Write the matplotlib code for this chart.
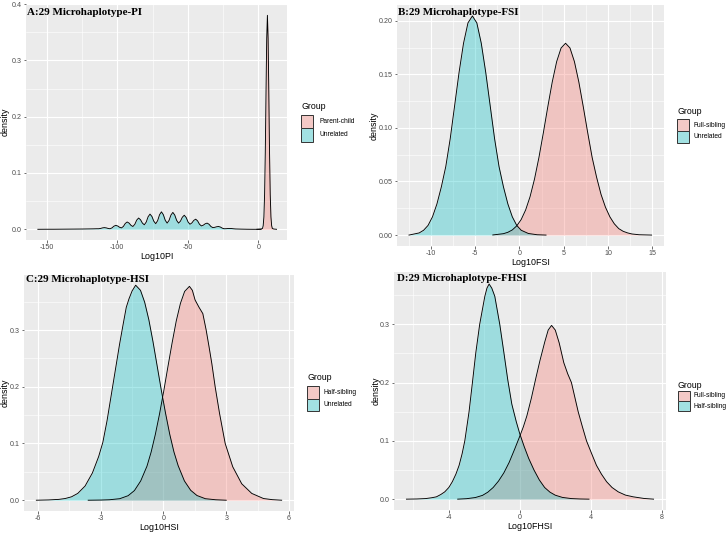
import matplotlib
matplotlib.use('Agg')
import matplotlib.pyplot as plt
from matplotlib.patches import Rectangle

plt.rcParams['font.family'] = ['Liberation Sans', 'DejaVu Sans']

# data
# A: Log10PI
a_unrel_x = [-156.4, -150, -145, -140, -135, -130, -125, -120, -117.3,
             -115.95, -114.6, -113.25, -111.9, -110.55, -109.2, -107.85, -106.5, -105.15,
             -103.8, -102.45, -101.1, -99.75, -98.4, -97.05, -95.7, -94.35, -93.0,
             -91.65, -90.3, -88.95, -87.6, -86.25, -84.9, -83.55, -82.2, -80.85,
             -79.5, -78.15, -76.8, -75.45, -74.1, -72.75, -71.4, -70.05, -68.7,
             -67.35, -66.0, -64.65, -63.3, -61.95, -60.6, -59.25, -57.9, -56.55,
             -55.2, -53.85, -52.5, -51.15, -49.8, -48.45, -47.1, -45.75, -44.4,
             -43.05, -41.7, -40.35, -39.0, -37.65, -36.3, -34.95, -33.6, -32.25,
             -30.9, -29.55, -28.2, -26.85, -25.5, -24.15, -22.8, -21.45, -20.1,
             -18.75, -17.4, -16.05, -12.0, -8.0, -4.0, 2.0]
a_unrel_y = [0.0, 0.0001, 0.0001, 0.0002, 0.0003, 0.0004, 0.0005, 0.0007, 0.0008,
             0.0009, 0.001, 0.001, 0.0015, 0.0025, 0.003, 0.0025, 0.0015, 0.001,
             0.0025, 0.0055, 0.007, 0.0059, 0.0036, 0.0025, 0.0051, 0.0104, 0.013,
             0.011, 0.007, 0.005, 0.0088, 0.0163, 0.020, 0.017, 0.011, 0.008,
             0.0128, 0.0223, 0.027, 0.0228, 0.0143, 0.010, 0.0153, 0.0258, 0.031,
             0.026, 0.016, 0.011, 0.0158, 0.0253, 0.030, 0.0253, 0.0158, 0.011,
             0.0145, 0.0215, 0.025, 0.021, 0.013, 0.009, 0.0113, 0.0158, 0.018,
             0.015, 0.009, 0.006, 0.0073, 0.0098, 0.011, 0.009, 0.005, 0.003,
             0.0035, 0.0045, 0.005, 0.004, 0.002, 0.001, 0.0011, 0.0014, 0.0015,
             0.0013, 0.0009, 0.0006, 0.0003, 0.0001, 0.0, 0.0]
a_pc_x = [-1, 2, 3, 3.5, 4, 4.5, 5, 5.5, 6, 6.5, 7, 7.5, 8, 8.5, 9, 9.5, 10, 11, 13]
a_pc_y = [0, 0.0005, 0.0015, 0.0064, 0.022, 0.062, 0.137, 0.241, 0.339, 0.38,
          0.339, 0.241, 0.137, 0.062, 0.022, 0.0064, 0.0015, 0.0005, 0]

# B: Log10FSI
b_unrel_x = [-12.45, -11.3, -10.8, -10.3, -9.8, -9.3, -8.8, -8.3, -7.8, -7.3, -6.8, -6.3,
             -5.8, -5.3, -4.8, -4.3, -3.8, -3.3, -2.8, -2.3, -1.8, -1.3, -0.8, -0.3,
             0.2, 1.0, 2.0, 3.0]
b_unrel_y = [0.0, 0.002, 0.0045, 0.009, 0.017, 0.029, 0.045, 0.064, 0.090, 0.121, 0.152, 0.179,
             0.198, 0.2045, 0.198, 0.179, 0.152, 0.121, 0.090, 0.064, 0.045, 0.029, 0.017, 0.009,
             0.0045, 0.0015, 0.0003, 0.0]
b_fs_x = [-3.0, -1.8, -1.3, -0.8, -0.3, 0.2, 0.7, 1.2, 1.7, 2.2, 2.7, 3.2, 3.7, 4.2, 4.7,
          5.2, 5.7, 6.2, 6.7, 7.2, 7.7, 8.2, 8.7, 9.2, 9.7, 10.2, 10.7, 11.2, 11.7, 12.2,
          12.7, 13.5, 14.9]
b_fs_y = [0.0001, 0.0013, 0.0026, 0.0048, 0.0086, 0.0145, 0.0234, 0.0358, 0.0522, 0.0724,
          0.0955, 0.1197, 0.1428, 0.1619, 0.1746, 0.179, 0.1746, 0.1619, 0.1428, 0.1197,
          0.0955, 0.0724, 0.054, 0.038, 0.026, 0.017, 0.0105, 0.006, 0.0035, 0.002,
          0.001, 0.0003, 0.0]

# C: Log10HSI
c_unrel_x = [-6.08, -5.5, -5.0, -4.7, -4.4, -4.1, -3.75, -3.4, -3.1, -2.9,
             -2.7, -2.5, -2.3, -2.1, -1.93, -1.78, -1.65, -1.5, -1.33, -1.1,
             -0.9, -0.7, -0.5, -0.3, -0.1, 0.1, 0.3, 0.5, 0.7, 1.0,
             1.3, 1.6, 2.0, 2.5, 3.0]
c_unrel_y = [0.0, 0.0005, 0.0015, 0.003, 0.006, 0.012, 0.025, 0.048, 0.077, 0.102,
             0.140, 0.185, 0.230, 0.275, 0.310, 0.340, 0.355, 0.369, 0.379, 0.370,
             0.349, 0.318, 0.279, 0.236, 0.193, 0.153, 0.116, 0.085, 0.061, 0.034,
             0.0175, 0.0083, 0.0027, 0.0008, 0.0]
c_hs_x = [-3.6, -3.0, -2.59, -2.09, -1.69, -1.39, -1.09, -0.79, -0.59, -0.39,
          -0.19, 0.01, 0.21, 0.41, 0.61, 0.81, 1.01, 1.24, 1.38, 1.51,
          1.7, 1.88, 2.04, 2.18, 2.31, 2.47, 2.68, 2.95, 3.31, 3.74,
          4.22, 4.78, 5.2, 5.65]
c_hs_y = [0.0, 0.0003, 0.0008, 0.0027, 0.008, 0.017, 0.034, 0.060, 0.085, 0.116,
          0.152, 0.192, 0.235, 0.277, 0.316, 0.347, 0.368, 0.377, 0.370, 0.353,
          0.340, 0.329, 0.300, 0.270, 0.241, 0.200, 0.153, 0.100, 0.059, 0.029,
          0.012, 0.003, 0.001, 0.0]

# D: Log10FHSI
d_hs_x = [-6.39, -5.8, -5.3, -4.95, -4.7, -4.45, -4.23, -4.0, -3.8, -3.6,
          -3.42, -3.25, -3.10, -2.86, -2.67, -2.48, -2.26, -1.97, -1.85, -1.73,
          -1.58, -1.41, -1.13, -0.90, -0.68, -0.45, -0.2, 0.0, 0.25, 0.5,
          0.8, 1.1, 1.4, 1.7, 2.0, 2.4, 2.9, 3.4, 3.9]
d_hs_y = [0.0, 0.0003, 0.001, 0.0025, 0.004, 0.008, 0.0125, 0.02, 0.03, 0.043,
          0.058, 0.078, 0.100, 0.150, 0.200, 0.251, 0.300, 0.348, 0.362, 0.369,
          0.362, 0.348, 0.300, 0.252, 0.205, 0.163, 0.133, 0.112, 0.090, 0.070,
          0.050, 0.033, 0.020, 0.012, 0.0068, 0.003, 0.001, 0.0003, 0.0]
d_fs_x = [-3.5, -3.0, -2.5, -2.1, -1.8, -1.5, -1.2, -0.9, -0.6, -0.3,
          0.0, 0.2, 0.4, 0.65, 0.9, 1.13, 1.41, 1.6, 1.79, 2.0,
          2.22, 2.48, 2.7, 2.91, 3.1, 3.29, 3.52, 3.76, 4.05, 4.32,
          4.6, 4.89, 5.2, 5.55, 5.95, 6.39, 7.0, 7.54]
d_fs_y = [0.0, 0.0008, 0.0028, 0.0065, 0.012, 0.020, 0.031, 0.045, 0.063, 0.085,
          0.108, 0.124, 0.143, 0.173, 0.207, 0.237, 0.270, 0.290, 0.298, 0.290,
          0.268, 0.234, 0.215, 0.200, 0.175, 0.150, 0.125, 0.100, 0.078, 0.058,
          0.043, 0.030, 0.020, 0.0125, 0.007, 0.004, 0.0012, 0.0]

PINK = '#F8766D'
CYAN = '#00BFC4'
ALPHA = 0.33
W, H = 728, 533

fig = plt.figure(figsize=(W / 100, H / 100), dpi=100)


def px_axes(x0, y0, x1, y1):
    return fig.add_axes([x0 / W, 1 - y1 / H, (x1 - x0) / W, (y1 - y0) / H])


def style(ax, xlim, ylim, xt, xtl, yt, ytl, xminor, yminor, xlabel, ylab_px):
    ax.set_facecolor('#EBEBEB')
    for s in ax.spines.values():
        s.set_visible(False)
    ax.set_xlim(xlim)
    ax.set_ylim(ylim)
    ax.set_xticks(xt)
    ax.set_xticklabels(xtl)
    ax.set_yticks(yt)
    ax.set_yticklabels(ytl)
    ax.set_xticks(xminor, minor=True)
    ax.set_yticks(yminor, minor=True)
    ax.set_axisbelow(True)
    ax.grid(which='major', color='white', linewidth=0.85)
    ax.grid(which='minor', color='white', linewidth=0.4)
    ax.tick_params(which='minor', length=0)
    ax.tick_params(which='major', length=1.8, width=0.5, color='#333333',
                   labelsize=5.1, labelcolor='#4D4D4D', pad=1.0)
    ax.set_xlabel(xlabel, fontsize=6.4, labelpad=1.0)
    ax.set_ylabel('density', fontsize=6.4)
    # right edge of the rotated "density" label, in figure pixels
    x0 = ax.get_position().x0 * W
    w = ax.get_position().width * W
    ax.yaxis.set_label_coords((ylab_px - x0) / w, 0.5)


def density(ax, x, y, c):
    ax.fill_between(x, y, 0, color=c, alpha=ALPHA, linewidth=0)
    ax.plot(x, y, color='black', linewidth=0.65)


def legend(x, ytitle, ktop, kh, labels, off):
    fig.text(x / W, 1 - ytitle / H, 'Group', fontsize=6.3, va='center')
    for i, (lab, c) in enumerate(zip(labels, [PINK, CYAN])):
        top = ktop + i * kh
        box = [x / W, 1 - (top + kh) / H]
        fig.add_artist(Rectangle(box, 11.5 / W, kh / H, transform=fig.transFigure,
                                 facecolor='#F2F2F2', edgecolor='none'))
        fig.add_artist(Rectangle(box, 11.5 / W, kh / H, transform=fig.transFigure,
                                 facecolor=c, alpha=ALPHA, edgecolor='none'))
        fig.add_artist(Rectangle(box, 11.5 / W, kh / H, transform=fig.transFigure,
                                 facecolor='none', edgecolor='#333333', linewidth=0.7))
        fig.text((x + off) / W, 1 - (top + kh / 2) / H, lab, fontsize=4.8, va='center')


def title(x, y, s):
    fig.text(x / W, 1 - y / H, s, fontsize=7.9, fontweight='bold',
             family='Liberation Serif', va='baseline')


# A
ax = px_axes(26, 3.5, 287, 240)
style(ax, (-164.8, 20.4), (-0.019, 0.401),
      [-150, -100, -50, 0], ['-150', '-100', '-50', '0'],
      [0, 0.1, 0.2, 0.3, 0.4], ['0.0', '0.1', '0.2', '0.3', '0.4'],
      [-125, -75, -25], [0.05, 0.15, 0.25, 0.35], 'Log10PI', 10)
density(ax, a_pc_x, a_pc_y, PINK)
density(ax, a_unrel_x, a_unrel_y, CYAN)
legend(301, 106, 115, 13.3, ['Parent-child', 'Unrelated'], 18)
title(26.5, 15, 'A:29 Microhaplotype-PI')

# B
ax = px_axes(397, 5, 664, 246)
style(ax, (-13.8, 16.3), (-0.0102, 0.2147),
      [-10, -5, 0, 5, 10, 15], ['-10', '-5', '0', '5', '10', '15'],
      [0, 0.05, 0.1, 0.15, 0.2], ['0.00', '0.05', '0.10', '0.15', '0.20'],
      [-12.5, -7.5, -2.5, 2.5, 7.5, 12.5], [0.025, 0.075, 0.125, 0.175], 'Log10FSI', 379)
density(ax, b_fs_x, b_fs_y, PINK)
density(ax, b_unrel_x, b_unrel_y, CYAN)
legend(677, 111.7, 119.3, 11.7, ['Full-sibling', 'Unrelated'], 16.5)
title(398.3, 15, 'B:29 Microhaplotype-FSI')

# C
ax = px_axes(24, 275, 294, 511)
style(ax, (-6.67, 6.24), (-0.019, 0.397),
      [-6, -3, 0, 3, 6], ['-6', '-3', '0', '3', '6'],
      [0, 0.1, 0.2, 0.3], ['0.0', '0.1', '0.2', '0.3'],
      [-4.5, -1.5, 1.5, 4.5], [0.05, 0.15, 0.25, 0.35], 'Log10HSI', 10)
density(ax, c_hs_x, c_hs_y, PINK)
density(ax, c_unrel_x, c_unrel_y, CYAN)
legend(307, 377, 386, 12.5, ['Half-sibling', 'Unrelated'], 16)
title(26, 282, 'C:29 Microhaplotype-HSI')

# D
ax = px_axes(394, 272, 666, 510)
style(ax, (-7.09, 8.24), (-0.0186, 0.3896),
      [-4, 0, 4, 8], ['-4', '0', '4', '8'],
      [0, 0.1, 0.2, 0.3], ['0.0', '0.1', '0.2', '0.3'],
      [-6, -2, 2, 6], [0.05, 0.15, 0.25, 0.35], 'Log10FHSI', 380.5)
density(ax, d_fs_x, d_fs_y, PINK)
density(ax, d_hs_x, d_hs_y, CYAN)
legend(678, 385, 390.7, 10.2, ['Full-sibling', 'Half-sibling'], 15.5)
title(397.3, 281, 'D:29 Microhaplotype-FHSI')

fig.savefig('out.png', dpi=100)
